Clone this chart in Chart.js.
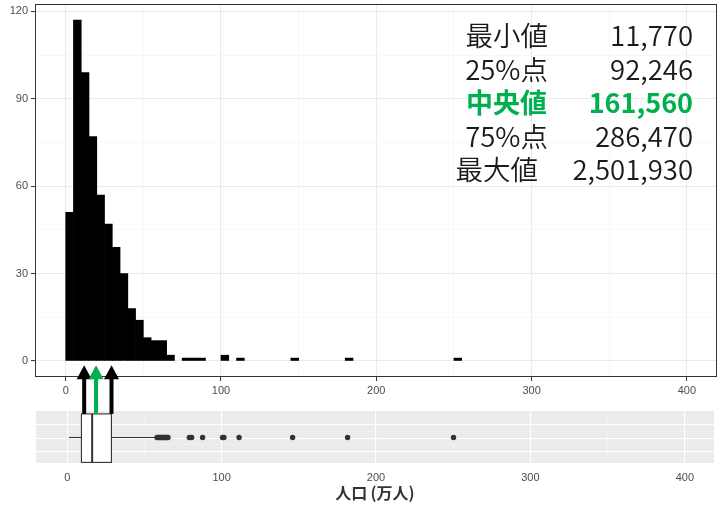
<!DOCTYPE html>
<html lang="ja">
<head>
<meta charset="utf-8">
<script src="https://cdn.jsdelivr.net/npm/chart.js@4.4.1/dist/chart.umd.min.js"></script>
<style>
  html, body { margin: 0; padding: 0; background: #fff; }
  #wrap { position: relative; width: 718px; height: 508px; }
  #wrap canvas { position: absolute; left: 0; top: 0; }
</style>
</head>
<body>
<div id="wrap">
  <canvas id="hist" width="718" height="508"></canvas>
  <canvas id="box" width="718" height="508"></canvas>
</div>
<script>
// histogram (万人, bin width 5)
const binWidth = 5;
const binStarts = [0, 5, 10, 15, 20, 25, 30, 35, 40, 45, 50, 55, 60, 65, 75, 80, 85, 100, 110, 145, 180, 250];
const binCounts = [51, 117, 99, 77, 57, 47, 39, 30, 18, 14, 8, 7, 7, 2, 1, 1, 1, 2, 1, 1, 1, 1];

// box plot: min, Q1, median, Q3, upper whisker end
const boxStats = [1.177, 9.2246, 16.156, 28.647, 57.2];
const outliers = [58.2, 59.0, 59.7, 60.4, 61.1, 61.8, 62.5, 63.2, 63.9, 64.6, 65.3,
                  79.1, 80.6, 87.7, 100.6, 101.5, 111.3, 146.0, 181.6, 250.2];

// arrows under the histogram
const arrowX = [11.0, 18.7, 28.7];
const arrowColors = ['#000000', '#00B050', '#000000'];

// summary table
const statLabels = ['最小値', '25%点', '中央値', '75%点', '最大値'];
const statValues = ['11,770', '92,246', '161,560', '286,470', '2,501,930'];

// ticks
const xMajor = [0, 100, 200, 300, 400];
const xMinor = [50, 150, 250, 350];
const yMajor = [0, 30, 60, 90, 120];
const yMinor = [15, 45, 75, 105];
const boxMajor = [1, 2, 3];
const boxMinor = [0.5, 1.5, 2.5, 3.5];

const GREEN = '#00B050';
const tickFont = { family: 'Liberation Sans, Arial, sans-serif', size: 11 };
const cjk = '"Noto Sans CJK JP", "Noto Sans", sans-serif';
const cjkThin = '"Noto Sans CJK JP DemiLight", "Noto Sans CJK JP", sans-serif';

function mkTicks(major, minor) {
  return major.concat(minor).sort((a, b) => a - b).map(v => ({ value: v }));
}
function isMajor(c, list) {
  return !!(c.tick && list.includes(c.tick.value));
}
function noPad(s) {
  s.paddingTop = 0; s.paddingBottom = 0; s.paddingLeft = 0; s.paddingRight = 0;
}

const histPlugin = {
  id: 'histDecor',
  afterDraw(chart) {
    const { ctx, chartArea: a } = chart;
    ctx.save();
    ctx.strokeStyle = '#333333';
    ctx.lineWidth = 1;
    ctx.strokeRect(a.left + 0.5, a.top + 0.5, a.right - a.left - 1, a.bottom - a.top - 1);

    const rowY = [46, 79.5, 113, 146.5, 180];
    const labelRight = [548, 548, 547, 548, 538];
    ctx.textBaseline = 'alphabetic';
    ctx.textAlign = 'right';
    statLabels.forEach((lab, i) => {
      const med = i === 2;
      ctx.fillStyle = med ? GREEN : '#1a1a1a';
      ctx.font = med ? 'bold 27px ' + cjk : '350 27.5px ' + cjkThin;
      ctx.fillText(lab, labelRight[i], rowY[i]);
      ctx.fillText(statValues[i], 693, rowY[i]);
    });
    ctx.restore();
  }
};

new Chart(document.getElementById('hist'), {
  type: 'bar',
  data: {
    datasets: [{
      data: binStarts.map((s, i) => ({ x: s + binWidth / 2, y: binCounts[i] })),
      backgroundColor: '#000000',
      borderWidth: 0,
      barPercentage: 1,
      categoryPercentage: 1
    }]
  },
  options: {
    responsive: false,
    devicePixelRatio: 1,
    animation: false,
    layout: { padding: { top: 4, right: 1, left: 0, bottom: 0 } },
    plugins: { legend: { display: false }, tooltip: { enabled: false } },
    scales: {
      x: {
        type: 'linear', min: -19.77, max: 419.4, offset: false,
        afterBuildTicks: s => { s.ticks = mkTicks(xMajor, xMinor); },
        afterFit: s => { s.height = 131; noPad(s); },
        border: { display: false },
        grid: {
          offset: false,
          color: c => isMajor(c, xMajor) ? '#EBEBEB' : '#F4F4F4',
          lineWidth: c => isMajor(c, xMajor) ? 1.1 : 0.6,
          tickColor: c => isMajor(c, xMajor) ? '#333333' : 'rgba(0,0,0,0)',
          tickLength: 4, tickWidth: 1
        },
        ticks: {
          autoSkip: false, maxRotation: 0, padding: 3, color: '#4D4D4D', font: tickFont,
          callback: v => xMajor.includes(v) ? String(v) : ''
        }
      },
      y: {
        type: 'linear', min: -5.49, max: 122.55,
        afterBuildTicks: s => { s.ticks = mkTicks(yMajor, yMinor); },
        afterFit: s => { s.width = 35; noPad(s); },
        border: { display: false },
        grid: {
          color: c => isMajor(c, yMajor) ? '#EBEBEB' : '#F4F4F4',
          lineWidth: c => isMajor(c, yMajor) ? 1.1 : 0.6,
          tickColor: c => isMajor(c, yMajor) ? '#333333' : 'rgba(0,0,0,0)',
          tickLength: 4, tickWidth: 1
        },
        ticks: {
          autoSkip: false, padding: 3, color: '#4D4D4D', font: tickFont,
          callback: v => yMajor.includes(v) ? String(v) : ''
        }
      }
    }
  },
  plugins: [histPlugin]
});

const boxTop = 3.83, boxBottom = 0.17, boxMid = 2.05;

const boxPlugin = {
  id: 'boxDecor',
  beforeDraw(chart) {
    const { ctx, chartArea: a } = chart;
    ctx.save();
    ctx.fillStyle = '#EBEBEB';
    ctx.fillRect(a.left, a.top, a.right - a.left, a.bottom - a.top);
    ctx.restore();
  },
  afterDatasetsDraw(chart) {
    const { ctx, scales: { x, y } } = chart;
    const x1 = x.getPixelForValue(boxStats[1]);
    const xm = x.getPixelForValue(boxStats[2]);
    const x3 = x.getPixelForValue(boxStats[3]);
    const y1 = y.getPixelForValue(boxTop);
    const y2 = y.getPixelForValue(boxBottom);
    ctx.save();
    ctx.fillStyle = '#ffffff';
    ctx.fillRect(x1, y1, x3 - x1, y2 - y1);
    ctx.strokeStyle = '#333333';
    ctx.lineWidth = 1.1;
    ctx.strokeRect(x1, y1, x3 - x1, y2 - y1);
    ctx.lineWidth = 2;
    ctx.beginPath();
    ctx.moveTo(xm, y1);
    ctx.lineTo(xm, y2);
    ctx.stroke();
    ctx.restore();
  },
  afterDraw(chart) {
    const { ctx, scales: { x, y } } = chart;
    const tipY = y.getPixelForValue(7.5);
    const baseY = y.getPixelForValue(6.45);
    const endY = y.getPixelForValue(boxTop);
    ctx.save();
    arrowX.forEach((v, i) => {
      const px = x.getPixelForValue(v);
      ctx.fillStyle = arrowColors[i];
      ctx.fillRect(px - 2, baseY - 1, 4, endY - baseY + 1);
      ctx.beginPath();
      ctx.moveTo(px, tipY);
      ctx.lineTo(px - 7.5, baseY);
      ctx.lineTo(px + 7.5, baseY);
      ctx.closePath();
      ctx.fill();
    });
    ctx.restore();
  }
};

new Chart(document.getElementById('box'), {
  type: 'scatter',
  data: {
    datasets: [
      {
        type: 'line',
        data: [{ x: boxStats[0], y: boxMid }, { x: boxStats[1], y: boxMid }],
        borderColor: '#333333', borderWidth: 1.1, pointRadius: 0
      },
      {
        type: 'line',
        data: [{ x: boxStats[3], y: boxMid }, { x: boxStats[4], y: boxMid }],
        borderColor: '#333333', borderWidth: 1.1, pointRadius: 0
      },
      {
        data: outliers.map(v => ({ x: v, y: boxMid })),
        backgroundColor: '#333333', borderWidth: 0, pointRadius: 2.7
      }
    ]
  },
  options: {
    responsive: false,
    devicePixelRatio: 1,
    animation: false,
    layout: { padding: { top: 411, right: 1, left: 0, bottom: 0 } },
    plugins: { legend: { display: false }, tooltip: { enabled: false } },
    scales: {
      x: {
        type: 'linear', min: -20.2, max: 418.9,
        afterBuildTicks: s => { s.ticks = mkTicks(xMajor, xMinor); },
        afterFit: s => { s.height = 45; noPad(s); },
        border: { display: false },
        grid: {
          drawTicks: false,
          color: c => isMajor(c, xMajor) ? '#FFFFFF' : '#F4F4F4',
          lineWidth: c => isMajor(c, xMajor) ? 1.1 : 0.6
        },
        ticks: {
          autoSkip: false, maxRotation: 0, padding: 8, color: '#4D4D4D', font: tickFont,
          callback: v => xMajor.includes(v) ? String(v) : ''
        },
        title: {
          display: true, text: '人口\u2009(万人)', color: '#333333',
          font: { family: cjk, size: 16, weight: 'bold' },
          padding: { top: 0, bottom: 5 }
        }
      },
      y: {
        type: 'linear', min: 0.125, max: 4.05,
        afterBuildTicks: s => { s.ticks = mkTicks(boxMajor, boxMinor); },
        afterFit: s => { s.width = 36; noPad(s); },
        border: { display: false },
        grid: {
          drawTicks: false,
          color: c => isMajor(c, boxMajor) ? '#FFFFFF' : '#F4F4F4',
          lineWidth: c => isMajor(c, boxMajor) ? 1.1 : 0.6
        },
        ticks: { display: false }
      }
    }
  },
  plugins: [boxPlugin]
});
</script>
</body>
</html>
